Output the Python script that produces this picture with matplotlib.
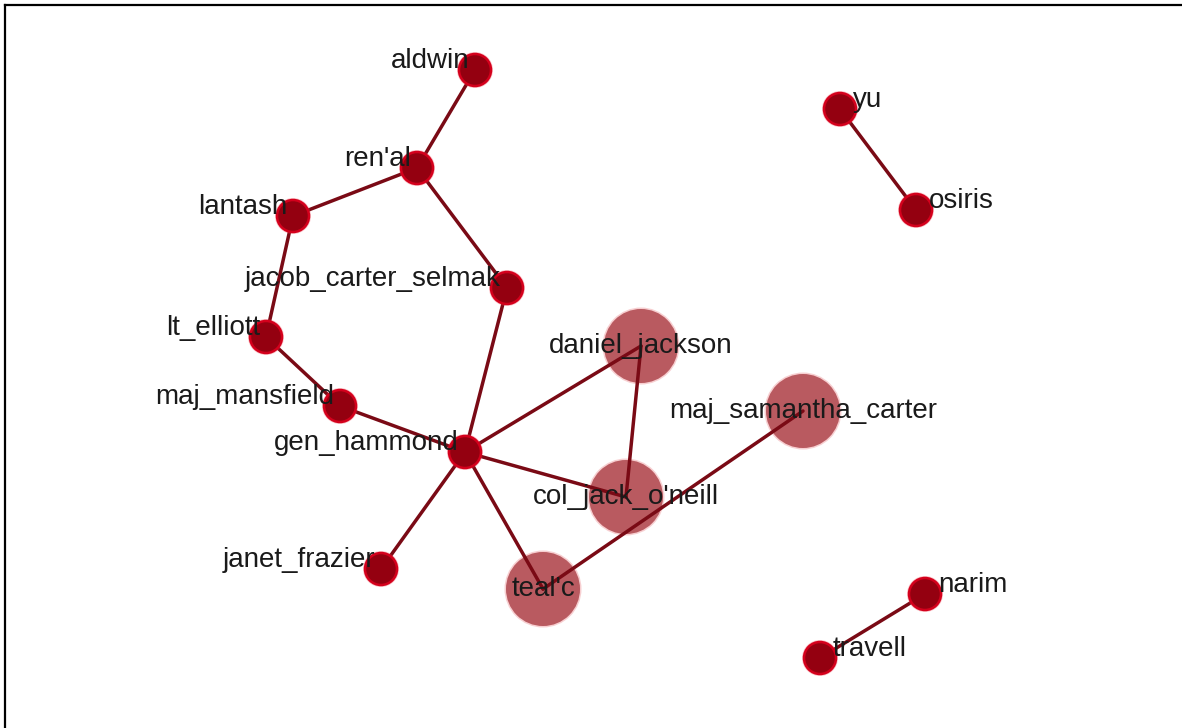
import matplotlib
matplotlib.use("Agg")
import matplotlib.pyplot as plt
from matplotlib.patches import Circle

# node layout (pixel space of the original canvas)
Names = ["aldwin", "ren'al", "lantash", "jacob_carter_selmak", "lt_elliott",
         "maj_mansfield", "gen_hammond", "janet_frazier", "daniel_jackson",
         "maj_samantha_carter", "col_jack_o'neill", "teal'c", "yu", "osiris",
         "narim", "travell"]
NodeX = [475, 417, 293, 507, 266, 340, 465, 381, 641, 803, 626, 543, 840, 916, 925, 820]
NodeY = [70, 168, 216, 288, 337, 406, 452, 569, 346, 411, 497, 589, 109, 210, 594, 658]
# big = highlighted nodes
Big = ["daniel_jackson", "maj_samantha_carter", "col_jack_o'neill", "teal'c"]
LabelSide = {"yu": "left", "osiris": "left", "narim": "left", "travell": "left"}

Edges = [("aldwin", "ren'al"), ("ren'al", "lantash"), ("ren'al", "jacob_carter_selmak"),
         ("lantash", "lt_elliott"), ("lt_elliott", "maj_mansfield"),
         ("maj_mansfield", "gen_hammond"), ("jacob_carter_selmak", "gen_hammond"),
         ("gen_hammond", "daniel_jackson"), ("gen_hammond", "col_jack_o'neill"),
         ("gen_hammond", "teal'c"), ("gen_hammond", "janet_frazier"),
         ("daniel_jackson", "col_jack_o'neill"), ("teal'c", "maj_samantha_carter"),
         ("yu", "osiris"), ("narim", "travell")]

W, H = 1182, 728
fig = plt.figure(figsize=(W / 100, H / 100), dpi=100)
ax = fig.add_axes([0, 0, 1, 1])
ax.set_xlim(0, W)
ax.set_ylim(H, 0)
ax.axis("off")

pos = {n: (x, y) for n, x, y in zip(Names, NodeX, NodeY)}

# frame, only top and left visible
ax.plot([4.5, 4.5], [H, 4.5], color="black", lw=1.6, zorder=0)
ax.plot([4.5, W], [4.5, 4.5], color="black", lw=1.6, zorder=0)

for n in Big:
    ax.add_patch(Circle(pos[n], 38.5, facecolor="#f0a0a4", edgecolor="none",
                        alpha=0.5, zorder=1))
    ax.add_patch(Circle(pos[n], 37, facecolor="#b95a60", edgecolor="none",
                        zorder=1))

for a, b in Edges:
    ax.plot([pos[a][0], pos[b][0]], [pos[a][1], pos[b][1]],
            color="#7a0a15", lw=2.5, zorder=2, solid_capstyle="round")

for n in Names:
    if n in Big:
        continue
    ax.add_patch(Circle(pos[n], 18, facecolor="#f04050", edgecolor="none",
                        alpha=0.3, zorder=3))
    ax.add_patch(Circle(pos[n], 16, facecolor="#940010", edgecolor="#d4001c",
                        lw=1.8, zorder=3))

font = dict(fontsize=20, family="Liberation Sans", color="#1a1a1a", zorder=4)
for n in Names:
    x, y = pos[n]
    if n in Big:
        ax.text(x, y, n, ha="center", va="center", **font)
    elif LabelSide.get(n) == "left":
        ax.text(x + 13, y - 9, n, ha="left", va="center", **font)
    else:
        ax.text(x - 6, y - 9, n, ha="right", va="center", **font)

fig.savefig("out.png", dpi=100)
